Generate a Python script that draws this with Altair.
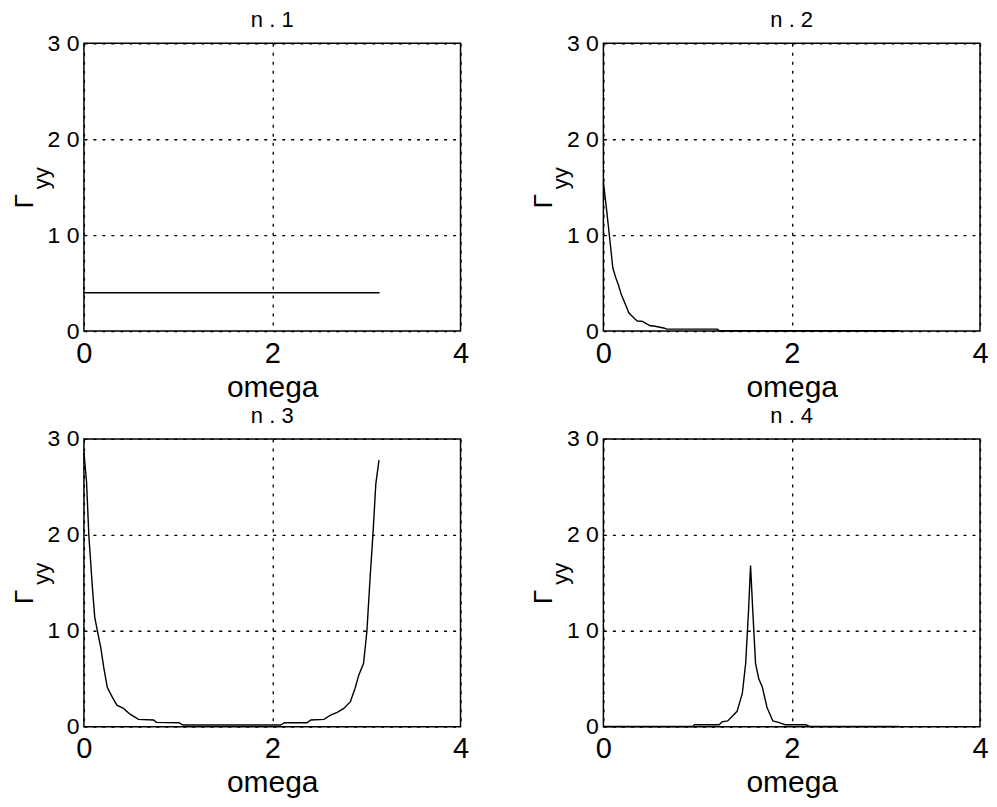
import altair as alt
import pandas as pd

FONT = "Liberation Sans"

titles = ["n . 1", "n . 2", "n . 3", "n . 4"]
x_ticks = [0, 2, 4]
y_ticks = [0, 10, 20, 30]

omega1 = [0.0, 3.14]
gamma1 = [4.0, 4.0]

omega2 = [0, 0.03, 0.06, 0.1, 0.13, 0.16, 0.19, 0.22, 0.25, 0.27, 0.3, 0.33, 0.36,
          0.41, 0.45, 0.5, 0.55, 0.6, 0.65, 0.67, 0.8, 1.0, 1.21, 1.23, 1.6, 2.0, 2.5, 3.14]
gamma2 = [15.5, 13.0, 10.3, 6.6, 5.6, 4.8, 3.8, 3.1, 2.4, 1.9, 1.6, 1.3, 1.05,
          1.03, 0.8, 0.55, 0.5, 0.4, 0.3, 0.2, 0.2, 0.2, 0.2, 0.03, 0.03, 0.03, 0.03, 0.03]

omega3 = [0, 0.028, 0.052, 0.09, 0.115, 0.143, 0.178, 0.21, 0.248, 0.3, 0.35, 0.42,
          0.49, 0.58, 0.74, 0.77, 1.01, 1.05, 2.09, 2.13, 2.37, 2.41, 2.55, 2.62,
          2.69, 2.76, 2.83, 2.88, 2.92, 2.97, 3.005, 3.04, 3.07, 3.10, 3.134]
gamma3 = [28.6, 25.5, 20.0, 14.5, 11.4, 10.0, 8.3, 6.2, 4.1, 3.1, 2.24, 1.9,
          1.3, 0.76, 0.7, 0.45, 0.41, 0.17, 0.17, 0.41, 0.41, 0.7, 0.76, 1.2,
          1.5, 1.9, 2.6, 4.0, 5.4, 6.6, 9.9, 15.6, 20.1, 25.3, 27.8]

omega4 = [0, 0.95, 0.967, 1.23, 1.26, 1.32, 1.42, 1.476, 1.511, 1.54, 1.563, 1.588,
          1.616, 1.65, 1.686, 1.738, 1.80, 1.86, 1.93, 2.15, 2.19, 3.14]
gamma4 = [0.02, 0.02, 0.2, 0.2, 0.5, 0.6, 1.6, 3.5, 6.6, 11.8, 16.8, 11.8,
          6.6, 5.0, 4.2, 2.0, 0.6, 0.45, 0.2, 0.2, 0.02, 0.02]

series = [(omega1, gamma1), (omega2, gamma2), (omega3, gamma3), (omega4, gamma4)]

Y_LABEL_EXPR = "datum.value >= 10 ? floor(datum.value / 10) + ' ' + (datum.value % 10) : datum.label"

W, H = 377, 288


def panel(om, ga, title):
    df = pd.DataFrame({"omega": om, "gamma": ga})
    line = alt.Chart(df).mark_line(color="black", strokeWidth=1.4).encode(
        x=alt.X("omega:Q", scale=alt.Scale(domain=[0, 4], nice=False),
                axis=alt.Axis(values=x_ticks, title="omega", format="d")),
        y=alt.Y("gamma:Q", scale=alt.Scale(domain=[0, 30], nice=False),
                axis=alt.Axis(values=y_ticks, title=None, labelExpr=Y_LABEL_EXPR)),
    )
    lab = pd.DataFrame({"t": [1]})
    g = alt.Chart(lab).mark_text(text="Γ", angle=270, fontSize=26, font=FONT,
                                 color="black", align="center", baseline="middle").encode(
        x=alt.value(-59), y=alt.value(158))
    yy = alt.Chart(lab).mark_text(text="yy", angle=270, fontSize=22, font=FONT,
                                  color="black", align="center", baseline="middle").encode(
        x=alt.value(-42), y=alt.value(135))
    return alt.layer(line, g, yy).properties(
        width=W, height=H,
        title=alt.TitleParams(title, font=FONT, fontSize=22, fontWeight="normal",
                              color="black", offset=0),
    )


charts = [panel(o, g, t) for (o, g), t in zip(series, titles)]

chart = alt.concat(
    *charts, columns=2, spacing={"row": 108, "column": 143}, bounds="flush"
).properties(
    padding={"left": 3, "top": 0, "right": 0, "bottom": 0}
).configure_view(
    stroke="black", strokeWidth=1.5
).configure_axis(
    domain=False, ticks=False, grid=True, gridColor="black", gridDash=[3, 6],
    gridWidth=1.3, gridOpacity=1, labelFont=FONT, titleFont=FONT,
    labelColor="black", titleColor="black", labelFlush=False, labelOverlap=False,
    titleFontWeight="normal",
).configure_axisX(
    labelFontSize=29, titleFontSize=30, labelPadding=8, titlePadding=4,
).configure_axisY(
    labelFontSize=23, labelPadding=5,
)

chart.save("out.html", embed_options={"renderer": "svg", "actions": False})
